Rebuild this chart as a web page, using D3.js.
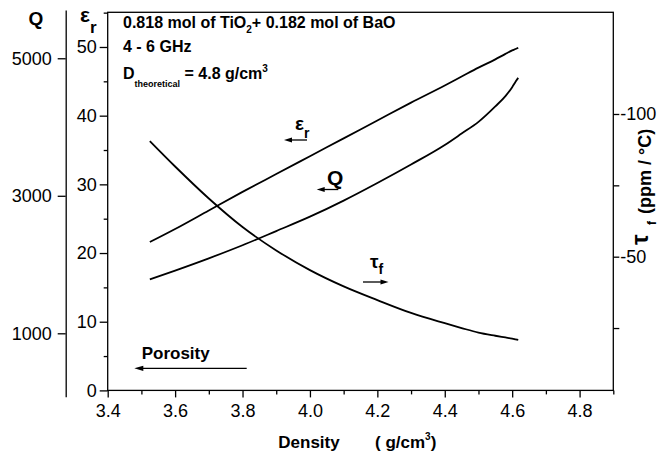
<!DOCTYPE html>
<html>
<head>
<meta charset="utf-8">
<script src="https://cdn.jsdelivr.net/npm/d3@7"></script>
<style>
  body { margin: 0; background: #fff; }
  svg { font-family: 'Liberation Sans', Arial, sans-serif; }
  .axis text { font-size: 18px; fill: #000; font-family: 'Liberation Sans', Arial, sans-serif; }
  .axis path, .axis line { stroke: #000; stroke-width: 1.3; }
  .curve { fill: none; stroke: #000; stroke-width: 1.8; }
  .lbl { font-weight: bold; fill: #000; }
</style>
</head>
<body>
<svg id="chart" width="661" height="453"></svg>
<script>
/* global d3 */

// values
const density = [3.525, 3.6, 3.7, 3.8, 3.9, 4.0, 4.1, 4.2, 4.3, 4.4, 4.45, 4.5, 4.55, 4.58, 4.6, 4.61, 4.618]
const permittivity = [21.6, 23.5, 26.2, 28.9, 31.5, 34.1, 36.7, 39.3, 41.9, 44.4, 45.7, 47.0, 48.2, 49.0, 49.5, 49.7, 49.9]
const quality = [1785, 1913, 2091, 2281, 2487, 2696, 2930, 3186, 3455, 3739, 3905, 4075, 4300, 4450, 4580, 4660, 4715]
const tauF = [-90.5, -81.6, -70.4, -60.4, -52.2, -45.3, -39.6, -34.8, -30.3, -26.7, -25.0, -23.4, -22.3, -21.7, -21.3, -21.05, -20.85]

const densityTicks = [3.4, 3.6, 3.8, 4.0, 4.2, 4.4, 4.6, 4.8]
const densityMinor = [3.5, 3.7, 3.9, 4.1, 4.3, 4.5, 4.7, 4.9]
const epsTicks = [0, 10, 20, 30, 40, 50]
const epsMinor = [5, 15, 25, 35, 45, 55]
const qTicks = [1000, 3000, 5000]
const tauTicks = [-100, -50]
const tauMinor = [-75, -25]

const svg = d3.select('#chart')
const plotLeft = 107.7
const plotRight = 613.3
const plotTop = 12.3
const plotBottom = 390.4

const x = d3.scaleLinear().domain([3.4, 4.9]).range([plotLeft, plotRight])
const yEps = d3.scaleLinear().domain([0, 55.05]).range([plotBottom, plotTop])
const yTau = d3.scaleLinear().domain([-135.63, -3.15]).range([plotTop, plotBottom])
const yQ = d3.scaleLinear().domain([78, 5702]).range([396.7, 10])

// frame
svg.append('rect')
  .attr('x', plotLeft).attr('y', plotTop)
  .attr('width', plotRight - plotLeft).attr('height', plotBottom - plotTop)
  .attr('fill', 'none').attr('stroke', '#000').attr('stroke-width', 1.3)

// bottom axis
svg.append('g').attr('class', 'axis')
  .attr('transform', `translate(0,${plotBottom})`)
  .call(d3.axisBottom(x).tickValues(densityTicks).tickFormat(d3.format('.1f'))
    .tickSize(7).tickSizeOuter(0).tickPadding(7))
  .call(g => g.select('.domain').remove())
svg.append('g').attr('class', 'axis')
  .attr('transform', `translate(0,${plotBottom})`)
  .call(d3.axisBottom(x).tickValues(densityMinor).tickFormat('').tickSize(4).tickSizeOuter(0))
  .call(g => g.select('.domain').remove())

// left eps axis
svg.append('g').attr('class', 'axis')
  .attr('transform', `translate(${plotLeft},0)`)
  .call(d3.axisLeft(yEps).tickValues(epsTicks).tickSize(8).tickSizeOuter(0).tickPadding(3))
  .call(g => g.select('.domain').remove())
svg.append('g').attr('class', 'axis')
  .attr('transform', `translate(${plotLeft},0)`)
  .call(d3.axisLeft(yEps).tickValues(epsMinor).tickFormat('').tickSize(4).tickSizeOuter(0))
  .call(g => g.select('.domain').remove())

// Q axis (offset)
svg.append('g').attr('class', 'axis')
  .attr('transform', 'translate(65.7,0)')
  .call(d3.axisLeft(yQ).tickValues(qTicks).tickFormat(d => String(d))
    .tickSize(8).tickSizeOuter(0).tickPadding(6))
  .call(g => g.select('.domain').attr('stroke-width', 2))

// right tau axis
svg.append('g').attr('class', 'axis')
  .attr('transform', `translate(${plotRight},0)`)
  .call(d3.axisRight(yTau).tickValues(tauTicks).tickFormat(d => String(d))
    .tickSize(6).tickSizeOuter(0).tickPadding(1))
  .call(g => g.select('.domain').remove())
svg.append('g').attr('class', 'axis')
  .attr('transform', `translate(${plotRight},0)`)
  .call(d3.axisRight(yTau).tickValues(tauMinor).tickFormat('').tickSize(6).tickSizeOuter(0))
  .call(g => g.select('.domain').remove())

// curves
const drawCurve = (values, yScale) => {
  const line = d3.line()
    .x((d, i) => x(density[i]))
    .y(d => yScale(d))
    .curve(d3.curveMonotoneX)
  svg.append('path').attr('class', 'curve').attr('d', line(values))
}
drawCurve(permittivity, yEps)
drawCurve(quality, yQ)
drawCurve(tauF, yTau)

// little arrows, x2 is the tip
function arrow (x1, x2, y, head) {
  const dir = x2 > x1 ? 1 : -1
  const h = head || 8
  svg.append('line')
    .attr('x1', x1).attr('x2', x2 - dir * h * 0.6).attr('y1', y).attr('y2', y)
    .attr('stroke', '#000').attr('stroke-width', 1.3)
  svg.append('path')
    .attr('d', `M${x2},${y}L${x2 - dir * h},${y - 2.6}L${x2 - dir * h},${y + 2.6}Z`)
    .attr('fill', '#000')
}

// curve labels
const epsLbl = svg.append('text').attr('class', 'lbl').attr('x', 295).attr('y', 130)
epsLbl.append('tspan').attr('font-size', 19).text('ε')
epsLbl.append('tspan').attr('font-size', 14).attr('dy', 8).text('r')
arrow(307, 284, 140)

svg.append('text').attr('class', 'lbl').attr('x', 327).attr('y', 185)
  .attr('font-size', 21).text('Q')
arrow(338.3, 316.7, 189.5)

const tauLbl = svg.append('text').attr('class', 'lbl').attr('x', 370).attr('y', 268)
tauLbl.append('tspan').attr('font-size', 19).text('τ')
tauLbl.append('tspan').attr('font-size', 14).attr('dy', 6).text('f')
arrow(363, 388.5, 282)

svg.append('text').attr('class', 'lbl').attr('x', 141.7).attr('y', 359.3)
  .attr('font-size', 17).text('Porosity')
arrow(246.7, 134.3, 368.3, 9)

// composition block
const info = svg.append('g').attr('class', 'lbl').attr('font-size', 16)
const l1 = info.append('text').attr('x', 123).attr('y', 28)
l1.append('tspan').text('0.818 mol of TiO')
l1.append('tspan').attr('font-size', 10).attr('dy', 5).text('2')
l1.append('tspan').attr('dy', -5).text('+ 0.182 mol of BaO')
info.append('text').attr('x', 123).attr('y', 52).text('4 - 6 GHz')
const l3 = info.append('text').attr('x', 123).attr('y', 79)
l3.append('tspan').text('D')
l3.append('tspan').attr('font-size', 9).attr('dy', 8).text('theoretical')
l3.append('tspan').attr('dy', -8).text(' = 4.8 g/cm')
l3.append('tspan').attr('font-size', 10).attr('dy', -7).text('3')

// axis titles
svg.append('text').attr('class', 'lbl').attr('x', 36).attr('y', 25)
  .attr('text-anchor', 'middle').attr('font-size', 19).text('Q')
const epsTitle = svg.append('text').attr('class', 'lbl').attr('x', 80).attr('y', 22)
epsTitle.append('tspan').attr('font-size', 21).text('ε')
epsTitle.append('tspan').attr('font-size', 17).attr('dy', 11).text('r')

const xTitle = svg.append('g').attr('class', 'lbl').attr('font-size', 17)
xTitle.append('text').attr('x', 278.3).attr('y', 448).text('Density')
const unit = xTitle.append('text').attr('x', 375).attr('y', 448)
unit.append('tspan').text('( g/cm')
unit.append('tspan').attr('font-size', 10).attr('dy', -8).text('3')
unit.append('tspan').attr('dy', 8).text(')')

const tauTitle = svg.append('g').attr('class', 'lbl')
tauTitle.append('text').attr('transform', 'translate(648,245) rotate(-90)')
  .attr('font-size', 24).text('τ')
tauTitle.append('text').attr('transform', 'translate(656,225) rotate(-90)')
  .attr('font-size', 12).text('f')
tauTitle.append('text').attr('transform', 'translate(651,214) rotate(-90)')
  .attr('font-size', 18).text('(ppm / °C)')
</script>
</body>
</html>
